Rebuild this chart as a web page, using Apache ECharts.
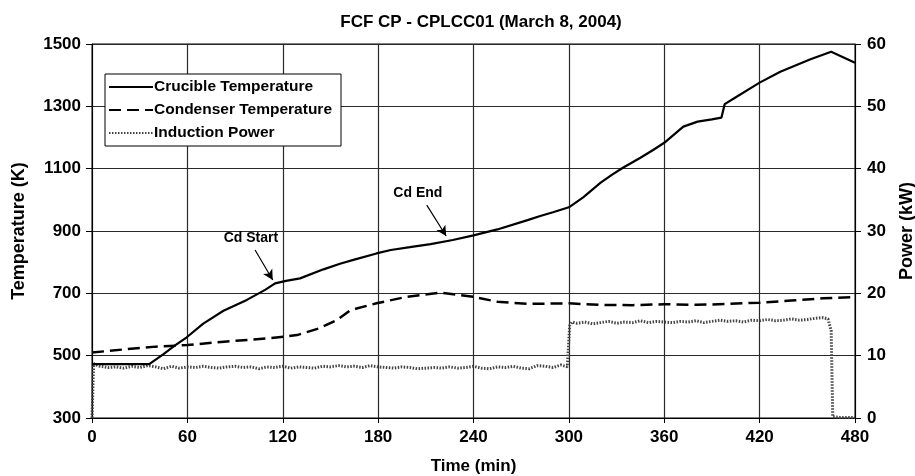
<!DOCTYPE html>
<html>
<head>
<meta charset="utf-8">
<script src="https://cdn.jsdelivr.net/npm/echarts@6/dist/echarts.min.js"></script>
<style>
html,body{margin:0;padding:0;background:#fff;}
#c{width:915px;height:476px;}
</style>
</head>
<body>
<div id="c"></div>
<script>
// ---- data ----
var titleText = 'FCF CP - CPLCC01 (March 8, 2004)';
var xTicks = [0, 60, 120, 180, 240, 300, 360, 420, 480];
var tempTicks = [300, 500, 700, 900, 1100, 1300, 1500];
var powerTicks = [0, 10, 20, 30, 40, 50, 60];

var crucibleTime = [0,10,20,30,36,45,52,59.6,70,82.7,97.4,108.9,115.2,122,130.9,145.6,156,165,179,188,200,213,227,240,255,274,282,290,300,309,320,327,334,345,353,360,372,381,390,396,398,404,420,433,452,465,480];
var crucibleTemp = [473,473,473,473,473,505,532,559,603,644,679,711,732,740,748,777,795,808,828,839,848,858,871,886,905,935,948,960,976,1008,1055,1080,1103,1135,1160,1183,1235,1251,1258,1264,1307,1326,1376,1411,1451,1475,1440];

var condenserTime = [0,20,40,60,83,112,129,143,154,162,167,179,198,219,240,255,274,300,320,340,360,380,400,420,440,460,480];
var condenserTemp = [510,520,529,534,545,556,566,588,614,644,652,668,689,702,689,673,666,668,663,662,665,663,666,670,677,684,688];

var powerTime = [0,1,5,10,15,20,25,30,35,40,45,50,55,60,65,70,75,80,85,90,95,100,105,110,115,120,125,130,135,140,145,150,155,160,165,170,175,180,185,190,195,200,205,210,215,220,225,230,235,240,245,250,255,260,265,270,275,280,285,290,295,299,300.5,302,305,310,315,320,325,330,335,340,345,350,355,360,365,370,375,380,385,390,395,400,405,410,415,420,425,430,435,440,445,450,455,460,463,465,466,470,475,480];
var powerKW = [0,8.7,8.3,8.1,8.2,8.0,8.3,8.1,8.4,8.2,7.9,8.3,8.0,8.2,8.1,8.3,8.1,8.0,8.2,8.3,8.1,8.2,7.9,8.2,8.1,8.3,8.0,8.2,8.1,8.0,8.3,8.2,8.4,8.2,8.3,8.1,8.4,8.2,8.1,8.0,8.2,8.1,7.9,8.0,8.1,8.0,8.2,8.0,8.1,8.3,8.0,7.9,8.2,8.1,8.3,8.0,7.9,8.4,8.3,8.1,8.5,8.2,14.8,15.4,15.2,15.4,15.1,15.3,15.5,15.2,15.4,15.3,15.6,15.3,15.5,15.4,15.3,15.5,15.4,15.6,15.3,15.5,15.7,15.5,15.6,15.4,15.7,15.6,15.8,15.6,15.7,15.9,15.7,15.8,16.0,16.1,15.9,14.0,0.2,0.1,0.1,0.1];

var seriesNames = ['Crucible Temperature', 'Condenser Temperature', 'Induction Power'];
var annotations = [
  {text: 'Cd Start', label: [100, 877], from: [102.6, 839], to: [113.7, 743]},
  {text: 'Cd End', label: [205, 1022], from: [210.6, 983], to: [222.8, 884]}
];

function pairs(xs, ys) { return xs.map(function (x, i) { return [x, ys[i]]; }); }

var FONT = '"Liberation Sans", Arial, sans-serif';
var chart = echarts.init(document.getElementById('c'), null, {renderer: 'canvas'});

var option = {
  backgroundColor: '#fff',
  animation: false,
  title: {
    text: titleText, left: 476, top: 9, textAlign: 'center',
    textStyle: {fontFamily: FONT, fontWeight: 'bold', fontSize: 17, color: '#000'}
  },
  legend: {
    orient: 'vertical', left: 105, top: 74,
    data: seriesNames,
    backgroundColor: '#fff', borderColor: '#000', borderWidth: 1,
    padding: [5, 9, 5, 3], itemWidth: 44, itemHeight: 12, itemGap: 7,
    itemStyle: {opacity: 0},
    textStyle: {fontFamily: FONT, fontWeight: 'bold', fontSize: 15.5, color: '#000', padding: [0, 0, 0, -4]}
  },
  grid: {left: 92, right: 60, top: 44, bottom: 58, show: true, borderColor: '#000', borderWidth: 1,
    containLabel: false, outerBoundsMode: 'none'},
  xAxis: {
    type: 'value', min: 0, max: 480, interval: 60,
    name: 'Time (min)', nameLocation: 'middle', nameGap: 40,
    nameTextStyle: {fontFamily: FONT, fontWeight: 'bold', fontSize: 17, color: '#000'},
    axisLine: {show: true, onZero: false, lineStyle: {color: '#000', width: 1}},
    axisTick: {show: true, inside: false, length: 5, lineStyle: {color: '#000'}},
    axisLabel: {fontFamily: FONT, fontWeight: 'bold', fontSize: 17, color: '#000', margin: 11,
      formatter: function (v) { return xTicks.indexOf(v) >= 0 ? String(v) : ''; }},
    splitLine: {show: true, lineStyle: {color: '#2a2a2a', width: 1.2}}
  },
  yAxis: [{
    type: 'value', min: 300, max: 1500, interval: 200, position: 'left',
    name: 'Temperature (K)', nameLocation: 'middle', nameGap: 64, nameRotate: 90,
    nameTextStyle: {fontFamily: FONT, fontWeight: 'bold', fontSize: 18, color: '#000'},
    axisLine: {show: true, lineStyle: {color: '#000', width: 1}},
    axisTick: {show: true, inside: false, length: 6, lineStyle: {color: '#000'}},
    axisLabel: {fontFamily: FONT, fontWeight: 'bold', fontSize: 17, color: '#000', margin: 11,
      formatter: function (v) { return tempTicks.indexOf(v) >= 0 ? String(v) : ''; }},
    splitLine: {show: true, lineStyle: {color: '#2a2a2a', width: 1.2}}
  }, {
    type: 'value', min: 0, max: 60, interval: 10, position: 'right',
    name: 'Power (kW)', nameLocation: 'middle', nameGap: 43, nameRotate: 90,
    nameTextStyle: {fontFamily: FONT, fontWeight: 'bold', fontSize: 18, color: '#000'},
    axisLine: {show: true, lineStyle: {color: '#000', width: 1}},
    axisTick: {show: true, inside: false, length: 6, lineStyle: {color: '#000'}},
    axisLabel: {fontFamily: FONT, fontWeight: 'bold', fontSize: 17, color: '#000', margin: 12,
      formatter: function (v) { return powerTicks.indexOf(v) >= 0 ? String(v) : ''; }},
    splitLine: {show: false}
  }],
  series: [{
    name: seriesNames[2], type: 'line', yAxisIndex: 1, data: pairs(powerTime, powerKW),
    symbol: 'none', showSymbol: false, z: 2,
    lineStyle: {color: '#444', width: 3, type: [1.5, 1.5]},
    itemStyle: {color: '#444'}
  }, {
    name: seriesNames[1], type: 'line', yAxisIndex: 0, data: pairs(condenserTime, condenserTemp),
    symbol: 'none', showSymbol: false, z: 3,
    lineStyle: {color: '#000', width: 2.5, type: [12, 6]},
    itemStyle: {color: '#000'}
  }, {
    name: seriesNames[0], type: 'line', yAxisIndex: 0, data: pairs(crucibleTime, crucibleTemp),
    symbol: 'none', showSymbol: false, z: 4,
    lineStyle: {color: '#000', width: 2.2, type: 'solid'},
    itemStyle: {color: '#000'},
    markLine: {
      silent: true, animation: false, symbol: ['none', 'arrow'], symbolSize: [8, 10],
      lineStyle: {color: '#000', width: 1.2, type: 'solid'},
      label: {show: false},
      data: annotations.map(function (a) { return [{coord: a.from}, {coord: a.to}]; })
    },
    markPoint: {
      silent: true, symbol: 'rect', symbolSize: 0,
      label: {show: true, position: 'inside', fontFamily: FONT, fontWeight: 'bold', fontSize: 14, color: '#000',
        formatter: function (p) { return p.name; }},
      data: annotations.map(function (a) { return {name: a.text, coord: a.label}; })
    }
  }]
};
chart.setOption(option);
</script>
</body>
</html>
